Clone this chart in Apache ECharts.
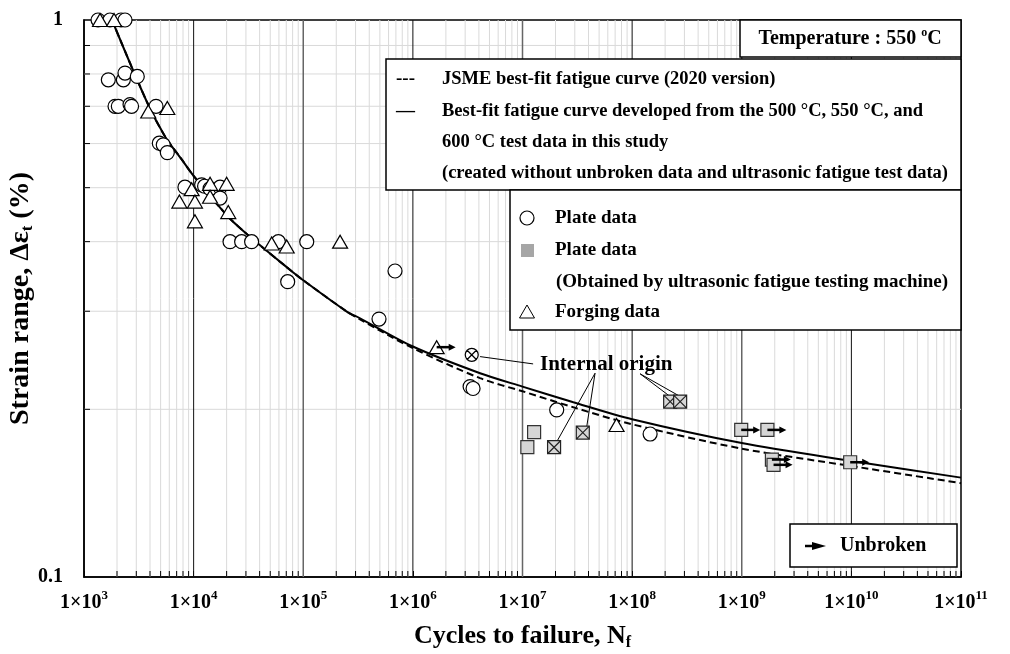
<!DOCTYPE html>
<html>
<head>
<meta charset="utf-8">
<script src="https://cdn.jsdelivr.net/npm/echarts@6/dist/echarts.min.js"></script>
<style>
html,body{margin:0;padding:0;background:#fff;}
#container{width:1010px;height:654px;}
</style>
</head>
<body>
<div id="container"></div>
<script>
// best-fit curve (this study) and JSME curve
var fitN  = [1800, 3733, 5483, 7780, 10000, 20750, 30480, 40370, 70630, 100000, 249500, 329600, 1e6, 4102000, 1e7, 29110000, 1e8, 1e9, 1e10, 1e11];
var fitS  = [1.0, 0.714, 0.618, 0.562, 0.525, 0.443, 0.413, 0.394, 0.36, 0.341, 0.2996, 0.2914, 0.2593, 0.2322, 0.2197, 0.206, 0.192, 0.174, 0.1616, 0.1508];
var jsmeN = [1800, 3733, 5483, 7780, 10000, 20750, 30480, 40370, 70630, 100000, 249500, 329600, 1e6, 4102000, 1e7, 29110000, 1e8, 1e9, 1e10, 1e11];
var jsmeS = [1.0, 0.714, 0.618, 0.562, 0.525, 0.443, 0.413, 0.394, 0.36, 0.341, 0.2996, 0.290, 0.2575, 0.2275, 0.2155, 0.2017, 0.188, 0.170, 0.1582, 0.1474];

// plate data (open circles)
var plateN = [1343, 1726, 2178, 2366, 1667, 2286, 2366, 3062, 1919, 2056, 2630, 2716, 4539, 4864, 5284, 5754,
              8337, 11830, 12589, 14125, 17418, 17418, 21478, 27416, 33806, 59293, 107600, 72110,
              687100, 490900, 3327000, 3540000, 20510000, 145900000];
var plateS = [1.0, 1.0, 1.0, 1.0, 0.781, 0.781, 0.803, 0.792, 0.70, 0.70, 0.705, 0.70, 0.70, 0.601, 0.597, 0.578,
              0.501, 0.506, 0.503, 0.498, 0.501, 0.479, 0.40, 0.40, 0.40, 0.40, 0.40, 0.339,
              0.3543, 0.2905, 0.2197, 0.218, 0.1995, 0.1806];
var plateIntN = [3443000];
var plateIntS = [0.2505];

// plate data, ultrasonic machine (grey squares)
var ultraN = [12760000, 11070000];
var ultraS = [0.182, 0.171];
var ultraIntN = [19410000, 35480000, 222300000, 274200000];
var ultraIntS = [0.171, 0.1816, 0.2065, 0.2065];
var ultraRunN = [988600000, 1714000000, 1884000000, 1950000000, 9750000000];
var ultraRunS = [0.1837, 0.1837, 0.1625, 0.159, 0.1607];

// forging data (triangles)
var forgeN = [1400, 1879, 3855, 5754, 7413, 9594, 10280, 10280, 14125, 14125, 20000, 20701, 51520, 70630, 216800, 72110000];
var forgeS = [1.0, 1.0, 0.685, 0.695, 0.472, 0.497, 0.472, 0.435, 0.508, 0.4815, 0.508, 0.452, 0.397, 0.392, 0.40, 0.1875];
var forgeRunN = [1648000];
var forgeRunS = [0.2586];

// "Internal origin" note and its leader lines
var noteN = [58000000];
var noteS = [0.2404];
var leadFromN = [12500000, 45900000, 45900000, 118300000, 118300000];
var leadFromS = [0.2413, 0.2322, 0.2322, 0.2316, 0.2316];
var leadToN   = [4100000, 20560000, 38550000, 222000000, 268600000];
var leadToS   = [0.2487, 0.175, 0.1862, 0.2109, 0.2114];

var decades = [1e3, 1e4, 1e5, 1e6, 1e7, 1e8, 1e9, 1e10, 1e11];
var yMinor = [0.2, 0.3, 0.4, 0.5, 0.6, 0.7, 0.8, 0.9];

var serif = "'Liberation Serif', 'Times New Roman', serif";

function zip(a, b) { return a.map(function (v, i) { return [v, b[i]]; }); }

var xMinor = [];
decades.slice(0, -1).forEach(function (d) {
    for (var k = 2; k <= 9; k++) xMinor.push([d * k, 0.5]);
});

var CROSS_CIRCLE = 'path://M0,-10A10,10,0,1,1,0,10A10,10,0,1,1,0,-10ZM-7.07,-7.07L7.07,7.07M7.07,-7.07L-7.07,7.07';
var CROSS_RECT = 'path://M-10,-10L10,-10L10,10L-10,10ZM-10,-10L10,10M10,-10L-10,10';

var chart = echarts.init(document.getElementById('container'));

var option = {
    backgroundColor: '#fff',
    animation: false,
    grid: {
        left: 84, top: 20, right: 49, bottom: 77,
        outerBoundsMode: 'none', containLabel: false,
        show: true, borderColor: '#000', borderWidth: 1.5, backgroundColor: 'rgba(0,0,0,0)'
    },
    xAxis: {
        type: 'log', logBase: 10, min: 1e3, max: 1e11, splitNumber: 8,
        name: '{a|Cycles to failure, N}{s|f}',
        nameLocation: 'middle', nameGap: 44, nameMoveOverlap: false,
        nameTextStyle: {
            rich: {
                a: { fontSize: 26, fontWeight: 'bold', fontFamily: serif, color: '#000', lineHeight: 30 },
                s: { fontSize: 16, fontWeight: 'bold', fontFamily: serif, color: '#000', verticalAlign: 'bottom', lineHeight: 16 }
            }
        },
        axisLine: { show: true, lineStyle: { color: '#000', width: 1.5 } },
        axisTick: { show: true, inside: true, length: 6, lineStyle: { color: '#000' } },
        splitLine: { show: false },
        axisLabel: {
            margin: 12,
            formatter: function (v) {
                var e = Math.round(Math.log10(v));
                return '{m|1×10}{e|' + e + '}';
            },
            rich: {
                m: { fontSize: 20, fontWeight: 'bold', fontFamily: serif, color: '#000', lineHeight: 28 },
                e: { fontSize: 13, fontWeight: 'bold', fontFamily: serif, color: '#000', verticalAlign: 'top', lineHeight: 14 }
            }
        }
    },
    yAxis: {
        type: 'log', logBase: 10, min: 0.1, max: 1,
        name: '{a|Strain range, Δε}{s|t}{a| (%)}',
        nameLocation: 'middle', nameGap: 48, nameRotate: 90, nameMoveOverlap: false,
        nameTextStyle: {
            rich: {
                a: { fontSize: 28, fontWeight: 'bold', fontFamily: serif, color: '#000', lineHeight: 30 },
                s: { fontSize: 17, fontWeight: 'bold', fontFamily: serif, color: '#000', verticalAlign: 'bottom', lineHeight: 16 }
            }
        },
        axisLine: { show: true, lineStyle: { color: '#000', width: 1.5 } },
        axisTick: { show: false },
        splitLine: { show: false },
        axisLabel: {
            margin: 21,
            fontSize: 20, fontWeight: 'bold', fontFamily: serif, color: '#000',
            formatter: function (v) { return v >= 1 ? '1' : '0.1'; }
        }
    },
    series: [
        {   // minor vertical grid + bottom minor ticks
            type: 'custom', silent: true, z: 1,
            data: xMinor,
            renderItem: function (params, api) {
                var x = api.value(0);
                var t = api.coord([x, 1]), b = api.coord([x, 0.1]);
                return { type: 'group', children: [
                    { type: 'line', shape: { x1: t[0], y1: t[1], x2: b[0], y2: b[1] }, style: { stroke: '#dadada', lineWidth: 1 } },
                    { type: 'line', shape: { x1: b[0], y1: b[1], x2: b[0], y2: b[1] - 6 }, style: { stroke: '#000', lineWidth: 1 } }
                ] };
            }
        },
        {   // horizontal grid + left minor ticks
            type: 'custom', silent: true, z: 1,
            data: yMinor.map(function (y) { return [1e3, y]; }),
            renderItem: function (params, api) {
                var y = api.value(1);
                var l = api.coord([1e3, y]), r = api.coord([1e11, y]);
                return { type: 'group', children: [
                    { type: 'line', shape: { x1: l[0], y1: l[1], x2: r[0], y2: r[1] }, style: { stroke: '#dadada', lineWidth: 1 } },
                    { type: 'line', shape: { x1: l[0], y1: l[1], x2: l[0] + 6, y2: l[1] }, style: { stroke: '#000', lineWidth: 1 } }
                ] };
            }
        },
        {   // decade lines
            type: 'custom', silent: true, z: 2,
            data: decades.slice(1, -1).map(function (d) { return [d, 0.5]; }),
            renderItem: function (params, api) {
                var x = api.value(0);
                var t = api.coord([x, 1]), b = api.coord([x, 0.1]);
                var odd = Math.round(Math.log10(x)) % 2 === 1;
                return { type: 'line', shape: { x1: t[0], y1: t[1], x2: b[0], y2: b[1] },
                    style: { stroke: odd ? '#666' : '#111', lineWidth: odd ? 1.5 : 1 } };
            }
        },
        {
            name: 'JSME', type: 'line', z: 3, showSymbol: false, smooth: 0.3, silent: true,
            data: zip(jsmeN, jsmeS),
            lineStyle: { color: '#000', width: 2, type: [7, 4] }
        },
        {
            name: 'Best-fit', type: 'line', z: 3, showSymbol: false, smooth: 0.3, silent: true,
            data: zip(fitN, fitS),
            lineStyle: { color: '#000', width: 2 }
        },
        {
            type: 'lines', coordinateSystem: 'cartesian2d', z: 3, silent: true,
            data: leadFromN.map(function (v, i) {
                return { coords: [[v, leadFromS[i]], [leadToN[i], leadToS[i]]] };
            }),
            lineStyle: { color: '#000', width: 1, opacity: 1 }
        },
        {
            name: 'Plate', type: 'scatter', z: 4, clip: false,
            data: zip(plateN, plateS), symbol: 'circle', symbolSize: 14,
            itemStyle: { color: '#fff', borderColor: '#000', borderWidth: 1.2, opacity: 1 }
        },
        {
            name: 'Plate internal', type: 'scatter', z: 4,
            data: zip(plateIntN, plateIntS), symbol: CROSS_CIRCLE, symbolSize: 13,
            itemStyle: { color: '#fff', borderColor: '#000', borderWidth: 1.2, opacity: 1 }
        },
        {
            name: 'Forging', type: 'scatter', z: 4, clip: false,
            data: zip(forgeN, forgeS).concat(zip(forgeRunN, forgeRunS)), symbol: 'triangle', symbolSize: [15, 13],
            itemStyle: { color: '#fff', borderColor: '#000', borderWidth: 1.2, opacity: 1 }
        },
        {
            name: 'Ultrasonic', type: 'scatter', z: 4,
            data: zip(ultraN, ultraS).concat(zip(ultraRunN, ultraRunS)), symbol: 'rect', symbolSize: 13,
            itemStyle: { color: '#d6d6d6', borderColor: '#333', borderWidth: 1.2, opacity: 1 }
        },
        {
            name: 'Ultrasonic internal', type: 'scatter', z: 4,
            data: zip(ultraIntN, ultraIntS), symbol: CROSS_RECT, symbolSize: 13,
            itemStyle: { color: '#d6d6d6', borderColor: '#222', borderWidth: 1.2, opacity: 1 }
        },
        {   // unbroken arrows
            type: 'custom', z: 5, silent: true,
            data: zip(ultraRunN, ultraRunS).concat(zip(forgeRunN, forgeRunS)),
            renderItem: function (params, api) {
                var p = api.coord([api.value(0), api.value(1)]);
                return { type: 'group', children: [
                    { type: 'line', shape: { x1: p[0], y1: p[1], x2: p[0] + 13, y2: p[1] }, style: { stroke: '#000', lineWidth: 2.5 } },
                    { type: 'polygon', shape: { points: [[p[0] + 12, p[1] - 3.5], [p[0] + 19, p[1]], [p[0] + 12, p[1] + 3.5]] }, style: { fill: '#000' } }
                ] };
            }
        },
        {   // "Internal origin" note
            type: 'custom', z: 6, silent: true,
            data: zip(noteN, noteS),
            renderItem: function (params, api) {
                var p = api.coord([api.value(0), api.value(1)]);
                return { type: 'text', x: p[0], y: p[1], style: {
                    text: 'Internal origin', font: 'bold 21px ' + serif, fill: '#000',
                    align: 'center', verticalAlign: 'middle' } };
            }
        }
    ],
    graphic: [
        // temperature box
        { type: 'rect', z: 100, shape: { x: 740, y: 20, width: 221, height: 37 }, style: { fill: '#fff', stroke: '#000', lineWidth: 1.5 } },
        { type: 'text', z: 101, x: 850, y: 39, style: {
            text: '{a|Temperature : 550 }{s|o}{a|C}', align: 'center', verticalAlign: 'middle',
            rich: {
                a: { fontSize: 20, fontWeight: 'bold', fontFamily: serif, fill: '#000', lineHeight: 24 },
                s: { fontSize: 12, fontWeight: 'bold', fontFamily: serif, fill: '#000', verticalAlign: 'top', lineHeight: 12 }
            } } },
        // curve legend
        { type: 'rect', z: 100, shape: { x: 386, y: 59, width: 575, height: 131 }, style: { fill: '#fff', stroke: '#000', lineWidth: 1.5 } },
        { type: 'text', z: 101, x: 396, y: 79, style: { text: '---', font: 'bold 19px ' + serif, fill: '#000', verticalAlign: 'middle' } },
        { type: 'text', z: 101, x: 442, y: 79, style: { text: 'JSME best-fit fatigue curve (2020 version)', font: 'bold 18.5px ' + serif, fill: '#000', verticalAlign: 'middle' } },
        { type: 'text', z: 101, x: 396, y: 111, style: { text: '—', font: 'bold 19px ' + serif, fill: '#000', verticalAlign: 'middle' } },
        { type: 'text', z: 101, x: 442, y: 111, style: { text: 'Best-fit fatigue curve developed from the 500 °C, 550 °C, and', font: 'bold 18.5px ' + serif, fill: '#000', verticalAlign: 'middle' } },
        { type: 'text', z: 101, x: 442, y: 142, style: { text: '600 °C test data in this study', font: 'bold 18.5px ' + serif, fill: '#000', verticalAlign: 'middle' } },
        { type: 'text', z: 101, x: 442, y: 173, style: { text: '(created without unbroken data and ultrasonic fatigue test data)', font: 'bold 18.5px ' + serif, fill: '#000', verticalAlign: 'middle' } },
        // marker legend
        { type: 'rect', z: 100, shape: { x: 510, y: 190, width: 451, height: 140 }, style: { fill: '#fff', stroke: '#000', lineWidth: 1.5 } },
        { type: 'circle', z: 101, shape: { cx: 527, cy: 218, r: 7 }, style: { fill: '#fff', stroke: '#000', lineWidth: 1.2 } },
        { type: 'text', z: 101, x: 555, y: 218, style: { text: 'Plate data', font: 'bold 19px ' + serif, fill: '#000', verticalAlign: 'middle' } },
        { type: 'rect', z: 101, shape: { x: 521, y: 244, width: 13, height: 13 }, style: { fill: '#a6a6a6' } },
        { type: 'text', z: 101, x: 555, y: 250, style: { text: 'Plate data', font: 'bold 19px ' + serif, fill: '#000', verticalAlign: 'middle' } },
        { type: 'text', z: 101, x: 556, y: 282, style: { text: '(Obtained by ultrasonic fatigue testing machine)', font: 'bold 19px ' + serif, fill: '#000', verticalAlign: 'middle' } },
        { type: 'polygon', z: 101, shape: { points: [[527, 305], [534.5, 318], [519.5, 318]] }, style: { fill: '#fff', stroke: '#000', lineWidth: 1 } },
        { type: 'text', z: 101, x: 555, y: 312, style: { text: 'Forging data', font: 'bold 19px ' + serif, fill: '#000', verticalAlign: 'middle' } },
        // unbroken legend
        { type: 'rect', z: 100, shape: { x: 790, y: 524, width: 167, height: 43 }, style: { fill: '#fff', stroke: '#000', lineWidth: 1.5 } },
        { type: 'line', z: 101, shape: { x1: 805, y1: 546, x2: 815, y2: 546 }, style: { stroke: '#000', lineWidth: 2.5 } },
        { type: 'polygon', z: 101, shape: { points: [[812, 542], [826, 546], [812, 550]] }, style: { fill: '#000' } },
        { type: 'text', z: 101, x: 840, y: 546, style: { text: 'Unbroken', font: 'bold 20px ' + serif, fill: '#000', verticalAlign: 'middle' } }
    ]
};

chart.setOption(option);
</script>
</body>
</html>
